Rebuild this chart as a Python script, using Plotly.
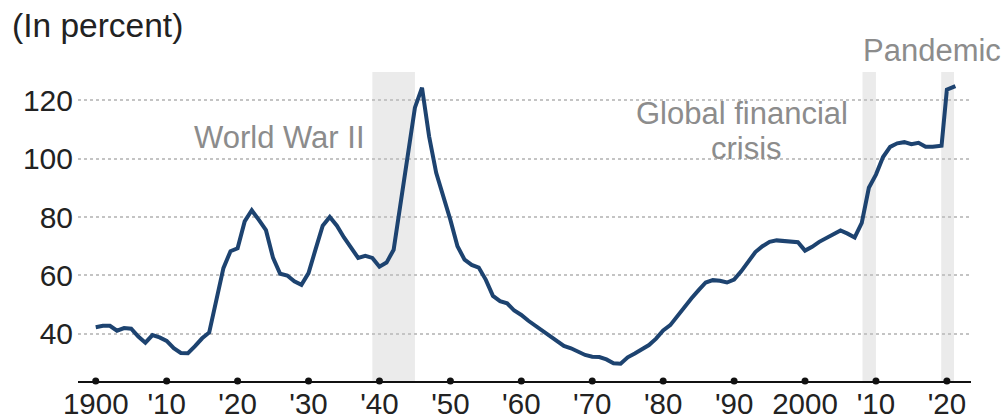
import plotly.graph_objects as go

# Debt as a share of GDP, 1900-2021 (percent)
years = list(range(1900, 2019)) + [2019, 2019.25, 2020, 2021.2]
debt = [
    42.3, 42.8, 42.8, 41.1, 42.0, 41.8, 39.1, 37.0, 39.6, 38.8,   # 1900-1909
    37.6, 35.1, 33.5, 33.4, 35.8, 38.5, 40.5, 51.0, 62.5, 68.3,   # 1910-1919
    69.3, 78.5, 82.3, 79.0, 75.5, 66.0, 60.6, 60.0, 58.0, 56.8,   # 1920-1929
    60.8, 69.0, 77.0, 80.0, 77.0, 73.0, 69.5, 66.0, 66.7, 66.0,   # 1930-1939
    63.0, 64.4, 68.8, 84.8, 101.9, 117.4, 124.2, 107.6, 95.1, 87.5,  # 1940-1949
    79.0, 70.0, 65.4, 63.6, 62.7, 58.5, 53.0, 51.2, 50.5, 48.0,   # 1950-1959
    46.5, 44.5, 42.8, 41.3, 39.3, 37.8, 35.9, 35.1, 33.8, 32.8,   # 1960-1969
    32.2, 32.1, 31.3, 30.0, 29.8, 32.0, 33.3, 34.6, 36.2, 38.4,   # 1970-1979
    41.2, 43.0, 46.2, 49.3, 52.2, 55.0, 57.6, 58.4, 58.2, 57.6,   # 1980-1989
    58.6, 61.4, 65.0, 68.0, 70.0, 71.5, 72.0, 71.8, 71.6, 71.4,   # 1990-1999
    68.5, 69.8, 71.5, 72.8, 74.3, 75.4, 74.3, 73.0, 78.0, 90.0,   # 2000-2009
    94.5, 100.5, 104.0, 105.2, 105.6, 104.9, 105.4, 104.0, 104.0,  # 2010-2018
    104.1, 104.4, 123.6, 124.8,                                   # 2019-2021
]

# Shaded episodes: (start, end)
episodes = [(1939, 1945), (2008.1, 2010), (2019.2, 2021)]

# Episode labels: (text, x, y, horizontal anchor); y in data units
labels = [
    ("World War II", 1938.3, 107.2, "right"),
    ("Global financial", 1991.1, 115.4, "center"),
    ("crisis", 1991.7, 103.6, "center"),
]
# Label sitting above the plotting area, y as a fraction of its height
top_labels = [
    ("Pandemic", 2017.85, 1.07, "center"),
]

decades = list(range(1900, 2030, 10))
decade_labels = ["1900", "'10", "'20", "'30", "'40", "'50", "'60",
                 "'70", "'80", "'90", "2000", "'10", "'20"]
y_ticks = [40, 60, 80, 100, 120]

X_RANGE = [1897.5, 2023.4]
Y_RANGE = [23.9, 129.6]

LINE_COLOR = "#1d4370"
LABEL_COLOR = "#8c8c8c"
FONT = "Liberation Sans, Arial, sans-serif"

fig = go.Figure()

fig.add_trace(go.Scatter(
    x=years, y=debt, mode="lines",
    line=dict(color=LINE_COLOR, width=4, shape="linear"),
    hoverinfo="skip", showlegend=False,
))

# Dots marking each decade on the baseline
fig.add_trace(go.Scatter(
    x=decades, y=[Y_RANGE[0]] * len(decades), mode="markers",
    marker=dict(color="#111111", size=7),
    cliponaxis=False, hoverinfo="skip", showlegend=False,
))

for x0, x1 in episodes:
    fig.add_shape(type="rect", xref="x", yref="paper",
                  x0=x0, x1=x1, y0=0, y1=1,
                  fillcolor="#ebebeb", line=dict(width=0), layer="below")

for text, x, y, anchor in labels:
    fig.add_annotation(x=x, y=y, xref="x", yref="y", text=text,
                       showarrow=False, xanchor=anchor, yanchor="middle",
                       font=dict(family=FONT, size=31, color=LABEL_COLOR))

for text, x, y, anchor in top_labels:
    fig.add_annotation(x=x, y=y, xref="x", yref="paper", text=text,
                       showarrow=False, xanchor=anchor, yanchor="middle",
                       font=dict(family=FONT, size=31, color=LABEL_COLOR))

fig.add_annotation(x=-0.0761, y=1.15, xref="paper", yref="paper",
                   text="(In percent)", showarrow=False,
                   xanchor="left", yanchor="middle",
                   font=dict(family=FONT, size=33.5, color="#222222"))

fig.update_layout(
    width=1006, height=419,
    margin=dict(l=78, r=35, t=72, b=38),
    paper_bgcolor="white", plot_bgcolor="white",
    font=dict(family=FONT, size=30, color="#222222"),
    xaxis=dict(range=X_RANGE, tickvals=decades, ticktext=decade_labels,
               showgrid=False, zeroline=False, showline=True,
               linecolor="#111111", linewidth=1.5, ticks="",
               ticklabelstandoff=-4, automargin=False,
               tickfont=dict(size=29.5, color="#222222"), fixedrange=True),
    yaxis=dict(range=Y_RANGE, tickvals=y_ticks, showgrid=True,
               gridcolor="#c4c4c4", griddash="dot", gridwidth=1.5,
               zeroline=False, showline=False, ticks="",
               ticklabelstandoff=4, automargin=False,
               tickfont=dict(size=30, color="#222222"), fixedrange=True),
)

fig.write_html("out.html", config={"displayModeBar": False})
